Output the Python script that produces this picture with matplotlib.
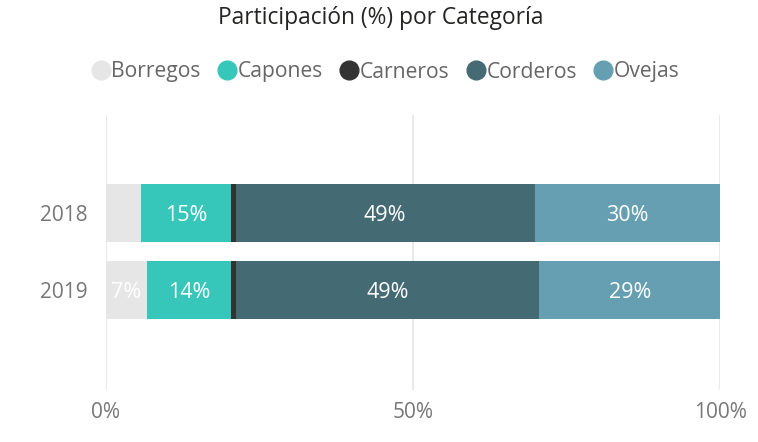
import matplotlib.pyplot as plt
from matplotlib.lines import Line2D

years = ["2018", "2019"]
categories = ["Borregos", "Capones", "Carneros", "Corderos", "Ovejas"]
values = {
    "Borregos": [5.7, 6.6],
    "Capones": [14.6, 13.8],
    "Carneros": [0.8, 0.8],
    "Corderos": [48.7, 49.4],
    "Ovejas": [30.2, 29.4],
}
colors = {
    "Borregos": "#E6E6E6",
    "Capones": "#37C6BA",
    "Carneros": "#333333",
    "Corderos": "#446A74",
    "Ovejas": "#669FB2",
}
xticks = [0, 50, 100]
xticklabels = ["0%", "50%", "100%"]

plt.rcParams['font.family'] = ['Open Sans', 'DejaVu Sans']

fig = plt.figure(figsize=(7.58, 4.42), dpi=100)
ax = fig.add_axes([106/758, 1-390/442, 614/758, 275/442])

ypos = list(range(len(years)))
left = [0.0] * len(years)
for cat in categories:
    vals = values[cat]
    ax.barh(ypos, vals, left=left, height=0.75, color=colors[cat], zorder=3)
    for i, v in enumerate(vals):
        if v >= 6:
            ax.text(left[i] + v / 2, ypos[i], f"{round(v):d}%", ha="center", va="center_baseline",
                    color="white", fontsize=15.5, zorder=4)
    left = [l + v for l, v in zip(left, vals)]

ax.set_xlim(0, 100)
ax.set_ylim(2.30, -1.273)
ax.set_yticks(ypos)
ax.set_yticklabels(years, fontsize=15, color="#777777", va="center_baseline")
ax.set_xticks(xticks)
ax.set_xticklabels(xticklabels, fontsize=15, color="#777777")
ax.tick_params(axis="both", length=0)
ax.tick_params(axis="y", pad=13)
ax.tick_params(axis="x", pad=9)
for s in ax.spines.values():
    s.set_visible(False)
ax.grid(axis="x", color="#E9E9E9", linewidth=1.5, zorder=0)
ax.set_axisbelow(True)

fig.text(0.502, 1-18/442, "Participación (%) por Categoría", ha="center", va="center",
         fontsize=16.4, color="#252423")

handles = [Line2D([0], [0], marker="o", linestyle="", markersize=13.5,
                  markerfacecolor=colors[c], markeredgecolor=colors[c]) for c in categories]
fig.legend(handles, categories, loc="center", bbox_to_anchor=(385/758, 1-72/442), ncol=5,
           frameon=False, fontsize=15.2, labelcolor="#666666", handletextpad=0.0,
           columnspacing=0.75, handlelength=1.0, borderpad=0, borderaxespad=0)

fig.savefig("out.png", dpi=100)
